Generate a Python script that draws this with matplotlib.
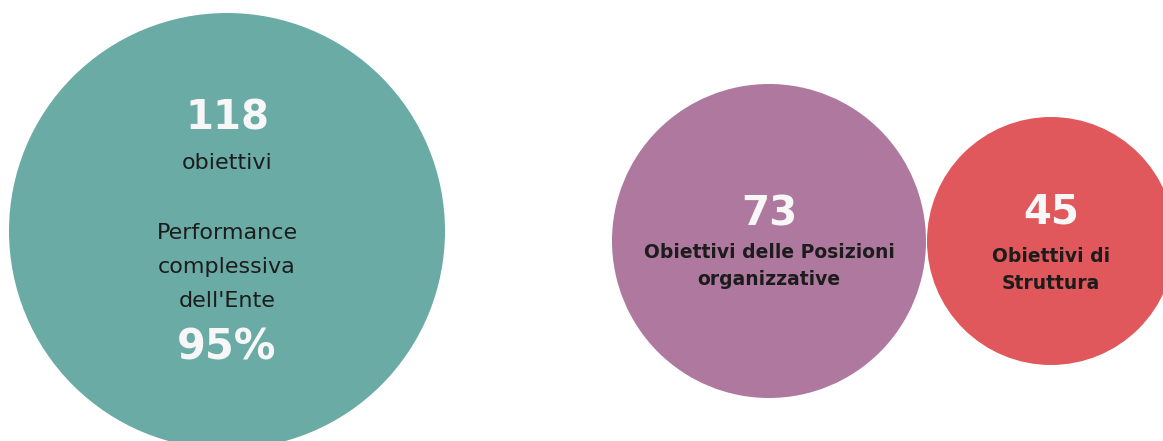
"""Bubble summary of objectives (obiettivi) by type."""

import matplotlib.pyplot as plt
from matplotlib.patches import Circle

# Data
counts = [118, 73, 45]
labels = ["obiettivi", "Obiettivi delle Posizioni\norganizzative", "Obiettivi di\nStruttura"]
performance_label = "Performance\ncomplessiva\ndell'Ente"
performance_value = "95%"
colors = ["#6aaba5", "#af799f", "#e0585c"]

# Layout (pixel coordinates)
centers = [(227, 231), (769, 241), (1051, 241)]
radii = [218, 157, 124]

fig = plt.figure(figsize=(11.63, 4.41), dpi=100)
ax = fig.add_axes([0, 0, 1, 1])
ax.set_xlim(0, 1163)
ax.set_ylim(441, 0)
ax.set_aspect("equal")
ax.axis("off")

for (cx, cy), r, c in zip(centers, radii, colors):
    ax.add_patch(Circle((cx, cy), r, color=c, lw=0))

white = "#f7f7f7"
dark = "#1c1c1c"

# big teal circle
cx, cy = centers[0]
ax.text(cx, 118, str(counts[0]), ha="center", va="center", fontsize=29,
        fontweight="bold", color=white)
ax.text(cx, 163, labels[0], ha="center", va="center", fontsize=16, color=dark)
ax.text(cx, 267, performance_label, ha="center", va="center", fontsize=16,
        color=dark, linespacing=1.85)
ax.text(cx, 348, performance_value, ha="center", va="center", fontsize=30,
        fontweight="bold", color=white)

# purple and red circles
ax.text(centers[1][0], 214, str(counts[1]), ha="center", va="center", fontsize=29,
        fontweight="bold", color=white)
ax.text(centers[1][0], 266, labels[1], ha="center", va="center", fontsize=13.5,
        fontweight="bold", color=dark, linespacing=1.5)
ax.text(centers[2][0], 212, str(counts[2]), ha="center", va="center", fontsize=29,
        fontweight="bold", color=white)
ax.text(centers[2][0], 270, labels[2], ha="center", va="center", fontsize=13.5,
        fontweight="bold", color=dark, linespacing=1.5)

plt.savefig("out.png", dpi=100)
